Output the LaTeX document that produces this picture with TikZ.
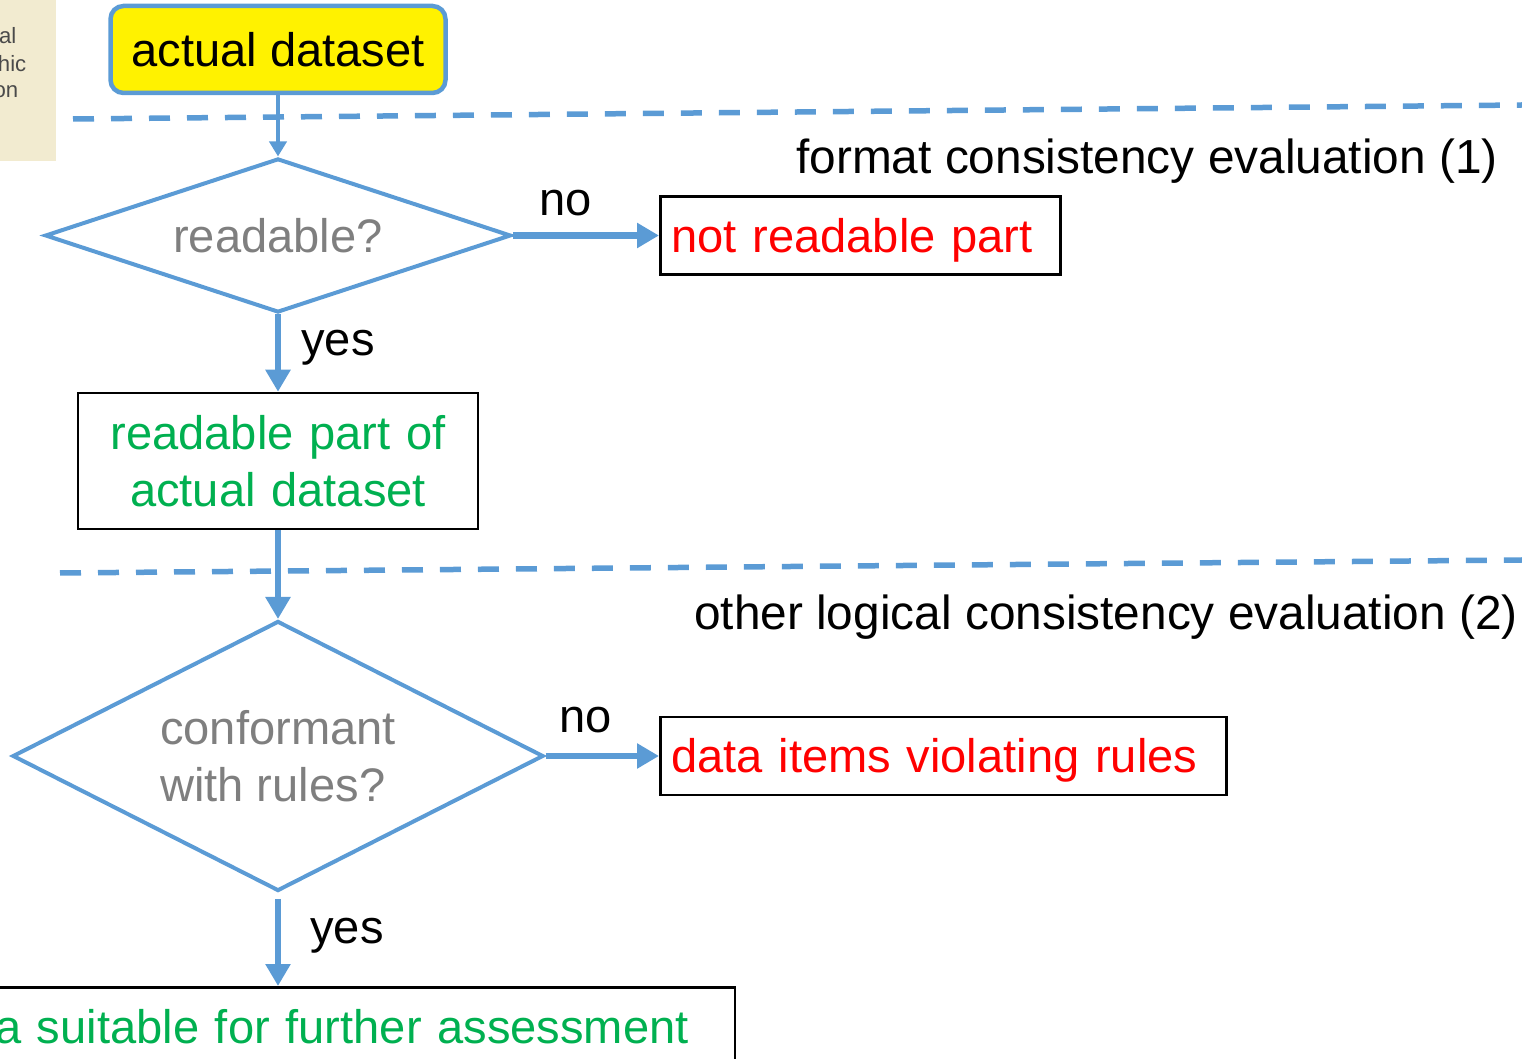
\documentclass[tikz,border=0pt]{standalone}
\usepackage{fontspec}
\setmainfont{Liberation Sans}
\usepackage{xcolor}
\usetikzlibrary{positioning, calc, arrows.meta, shapes.geometric}

\definecolor{flowblue}{HTML}{5B9BD5}
\definecolor{okgreen}{HTML}{00B050}
\definecolor{qgray}{HTML}{7F7F7F}
\definecolor{notebeige}{HTML}{F2EBD0}
\definecolor{notetext}{HTML}{4A4A4A}

\begin{document}
\begin{tikzpicture}[
  x=0.1mm, y=-0.1mm,
  font=\fontsize{13.4pt}{16.3pt}\selectfont,
  question/.style={shape=diamond, draw=flowblue, line width=0.4mm,
    text=qgray, inner sep=0pt},
  resultbox/.style={draw=black, line width=0.25mm, inner xsep=1.1mm,
    inner ysep=0pt, align=left},
  oneline/.style={text height=0.44cm, text depth=0.1cm},
  phaselabel/.style={font=\fontsize{13.6pt}{16.3pt}\selectfont},
  thinarrow/.style={flowblue, line width=0.4mm,
    -{Triangle[length=1.5mm, width=1.7mm]}},
  thickarrow/.style={flowblue, line width=0.65mm,
    -{Triangle[length=2.2mm, width=2.4mm]}},
  phaseline/.style={flowblue, line width=0.55mm,
    dash pattern=on 2.1mm off 1.7mm},
]

% ---- 0. frame of the slide cut-out ----
\useasboundingbox (0,0) rectangle (1522,1059);
\clip (0,0) rectangle (1522,1059);

% ---- 1. beige side note, cut at the left edge ----
\fill[notebeige] (0,0) rectangle (56,161);
\node[anchor=east, inner sep=0pt, text=notetext,
  font=\fontsize{6.3pt}{8pt}\selectfont] (noteA) at (17,36) {al};
\node[anchor=east, inner sep=0pt, text=notetext,
  font=\fontsize{6.3pt}{8pt}\selectfont] (noteB) at (27,64) {hic};
\node[anchor=east, inner sep=0pt, text=notetext,
  font=\fontsize{6.3pt}{8pt}\selectfont] (noteC) at (19,92) {on};

% ---- 2. phase separators (slightly tilted) ----
\coordinate (sepAL) at (73,119);
\coordinate (sepAR) at (1522,105);
\coordinate (sepBL) at (60,573);
\coordinate (sepBR) at (1522,560);
\draw[phaseline] (sepAL) -- (sepAR);
\draw[phaseline] (sepBL) -- (sepBR);

\node[phaselabel] (phaseA) at (1147,161) {format consistency evaluation (1)};
\node[phaselabel] (phaseB) at (1106,617) {other logical consistency evaluation (2)};

% ---- 3. input ----
\node[draw=flowblue, fill=yellow, line width=0.45mm, rounded corners=1.3mm,
  minimum width=3.35cm, minimum height=0.87cm, inner sep=0pt, oneline]
  (data) at (278,49.5) {actual dataset};

% ---- 4. first check: readable? ----
\node[question, aspect=3.03, minimum width=4.66cm, minimum height=1.54cm]
  (readq) at (278,235.5) {readable?};
\node[resultbox, oneline, anchor=west, text width=3.78cm,
  minimum height=0.78cm, text=red] (notread) at (659,235.5) {not readable part};
\node[resultbox, align=center, text width=3.8cm, inner xsep=1mm,
  minimum height=1.36cm, text=okgreen]
  (readpart) at (278,461) {readable part of\\actual dataset};

\draw[thinarrow] (data.south) -- (readq.north);
\draw[thickarrow] (readq.east) -- (notread.west);
\draw[thickarrow] (readq.south) -- (readpart.north);
\node (noA) at (566,203) {no};
\node (yesA) at (338,348) {yes};

% ---- 5. second check: rules ----
\node[question, aspect=1.97, minimum width=5.31cm, minimum height=2.70cm,
  align=left] (conf) at (278,756) {conformant\\with rules?};
\node[resultbox, oneline, anchor=west, text width=5.44cm,
  minimum height=0.78cm, text=red] (viol) at (659,756)
  {data items violating rules};
\node[resultbox, oneline, anchor=north east, align=right, text width=8cm,
  inner xsep=4.6mm, minimum height=0.78cm, text=okgreen]
  (suit) at (736,986) {a suitable for further assessment};

\draw[thickarrow] (readpart.south) -- (conf.north);
\draw[thickarrow] (conf.east) -- (viol.west);
\draw[thickarrow, shorten <=0.6mm] (conf.south) -- (suit.north -| conf.south);
\node (noB) at (586,720) {no};
\node (yesB) at (347,936) {yes};

\end{tikzpicture}
\end{document}
